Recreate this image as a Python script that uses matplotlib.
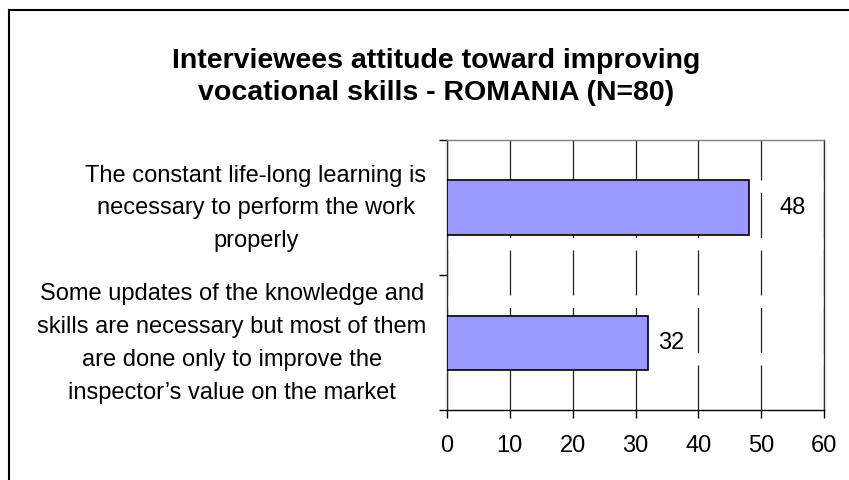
import matplotlib
matplotlib.use("Agg")
import matplotlib.pyplot as plt
from matplotlib.lines import Line2D

plt.rcParams.update({"font.family": ["Liberation Sans", "DejaVu Sans"]})

# data
categories = [
    "Some updates of the knowledge and\nskills are necessary but most of them\nare done only to improve the\ninspector\u2019s value on the market",
    "The constant life-long learning is\nnecessary to perform the work\nproperly",
]
values = [32, 48]
xticks = [0, 10, 20, 30, 40, 50, 60]
title = "Interviewees attitude toward improving\nvocational skills - ROMANIA (N=80)"

fig = plt.figure(figsize=(8.49, 4.81), dpi=100)
ax = fig.add_axes([447/849, 1-411/481, 377/849, 270/481])

pos = list(range(len(values)))
ax.barh(pos, values, height=0.4, color="#9999FF", edgecolor="black", linewidth=1.2, zorder=3)
ax.set_xlim(0, 60)
ax.set_ylim(-0.5, len(values) - 0.5)
ax.set_xticks(xticks)
ax.set_xticklabels([str(v) for v in xticks], fontsize=17)
ax.set_yticks([p - 0.5 for p in pos] + [len(values) - 0.5])
ax.set_yticklabels([])
ax.tick_params(axis="x", direction="out", length=6, width=1, pad=11)
ax.tick_params(axis="y", direction="out", length=6, width=1)
ax.yaxis.get_major_ticks()[-1].tick1line.set_color("#808080")
ax.xaxis.grid(True, color="#222222", linewidth=0.9, linestyle=(0, (36, 10)), zorder=0)
for s in ax.spines.values():
    s.set_linewidth(1)
ax.spines["top"].set_color("#808080")
ax.spines["right"].set_color("#333333")
ax.spines["left"].set_color("#333333")

for p, lab in zip(pos, categories):
    ax.text(-0.055, p, lab, transform=ax.get_yaxis_transform(), ha="right", va="center",
            multialignment="center", fontsize=17, linespacing=1.63)

offsets = [7, 22]
for p, v, off in zip(pos, values, offsets):
    ax.annotate(str(v), xy=(v, p), xytext=(off, 0), textcoords="offset points",
                ha="left", va="center", fontsize=17)

fig.text(436/849, 1-77/481, title, ha="center", va="center", fontsize=20.5,
         fontweight="bold", linespacing=1.3)

# outer frame (left and top edges visible)
fig.add_artist(Line2D([9/849, 9/849], [0, 1-11/481], transform=fig.transFigure, color="black", lw=1.5))
fig.add_artist(Line2D([9/849, 1], [1-11/481, 1-11/481], transform=fig.transFigure, color="black", lw=1.5))

fig.savefig("out.png", dpi=100)
